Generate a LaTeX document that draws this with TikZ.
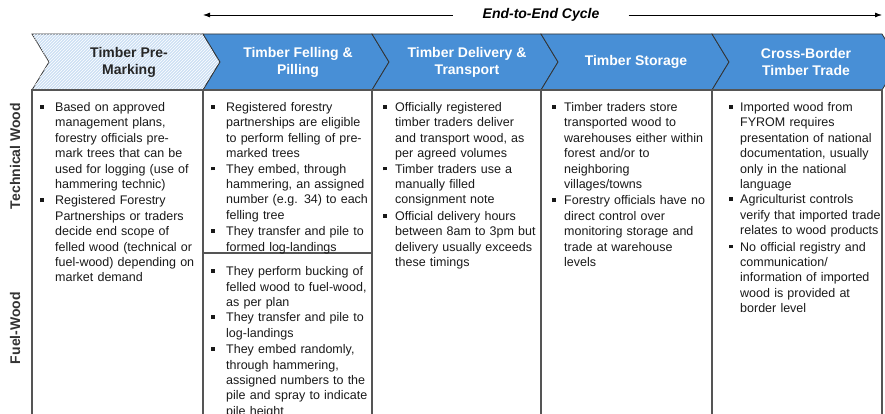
\documentclass[tikz,border=0pt]{standalone}
\usepackage{fontspec}
\setmainfont{Liberation Sans}
\usetikzlibrary{arrows.meta,patterns}
\definecolor{hdrblue}{RGB}{72,143,214}
\definecolor{hatchblue}{RGB}{205,224,244}
\definecolor{gridgray}{RGB}{85,85,85}
\newlength{\bulind}
\setlength{\bulind}{15pt}
\newcommand{\bul}[1]{\par\lineskip=0pt\relax\noindent\strut\makebox[\bulind][l]{\rule[2.8pt]{3.8pt}{3.8pt}}\parbox[t]{152pt}{\raggedright\strut #1\strut}}
\begin{document}
\begin{tikzpicture}[x=1pt,y=-1pt,
    chev/.style={draw=black!80,line width=0.8pt,fill=hdrblue},
    hdr/.style={align=center,text=white,font=\bfseries\fontsize{14}{17}\selectfont},
    col/.style={draw=gridgray,line width=1.2pt},
    txt/.style={anchor=north west,inner sep=0pt,text width=168pt,
        font=\fontsize{12.5}{15.4}\selectfont\raggedright,text=black!90},
    rowlbl/.style={rotate=90,font=\bfseries\fontsize{14}{17}\selectfont,text=black!80}]
    \useasboundingbox (0,0) rectangle (885,414);
    \clip (0,0) rectangle (885,414);

    % cycle arrow
    \coordinate (arrL) at (203,15);
    \coordinate (arrR) at (882,15);
    \node[inner xsep=29pt,font=\bfseries\itshape\fontsize{14}{17}\selectfont] (cycle) at (541,15) {End-to-End Cycle};
    \draw[line width=0.8pt,{Latex[length=7pt,width=5pt]}-] (arrL) -- (cycle);
    \draw[line width=0.8pt,-{Latex[length=7pt,width=5pt]}] (cycle) -- (arrR);

    % header chevrons
    \path[chev,fill=hatchblue,postaction={pattern=north east lines,pattern color=white}]
        (32,34) -- (203,34) -- (220,62) -- (203,90) -- (32,90) -- (49,62) -- cycle;
    \foreach \l/\r in {203/372,372/541,541/712,712/882}
        \draw[chev] (\l,34) -- (\r,34) -- (\r+17,62) -- (\r,90) -- (\l,90) -- (\l+17,62) -- cycle;
    \node[hdr,text=black!85] (hdPre) at (129,62) {Timber Pre-\\Marking};
    \node[hdr] (hdFell) at (298,62) {Timber Felling \&\\Pilling};
    \node[hdr] (hdDeliv) at (467,62) {Timber Delivery \&\\Transport};
    \node[hdr] (hdStore) at (636,62) {Timber Storage};
    \node[hdr] (hdTrade) at (806,62) {Cross-Border\\Timber Trade};

    % table body
    \foreach \l/\r in {32/203,203/372,372/541,541/712,712/882}
        \draw[col] (\l,90) rectangle (\r,430);
    \draw[col] (203,253) -- (372,253);

    % row labels
    \node[rowlbl] (rowTech) at (15,156) {Technical Wood};
    \node[rowlbl] (rowFuel) at (15,328) {Fuel-Wood};

    % pre-marking
    \node[txt] (txPre) at (40,96) {%
        \bul{Based on approved\\management plans,\\forestry officials pre-\\mark trees that can be\\used for logging (use of\\hammering technic)}
        \bul{Registered Forestry\\Partnerships or traders\\decide end scope of\\felled wood (technical or\\fuel-wood) depending on\\market demand}};

    % felling, technical and fuel-wood
    \node[txt] (txFellTech) at (211,96) {%
        \bul{Registered forestry\\partnerships are eligible\\to perform felling of pre-\\marked trees}
        \bul{They embed, through\\hammering, an assigned\\number (e.g. 34) to each\\felling tree}
        \bul{They transfer and pile to\\formed log-landings}};
    \node[txt] (txFellFuel) at (211,260) {%
        \bul{They perform bucking of\\felled wood to fuel-wood,\\as per plan}
        \bul{They transfer and pile to\\log-landings}
        \bul{They embed randomly,\\through hammering,\\assigned numbers to the\\pile and spray to indicate\\pile height}};

    % delivery
    \node[txt] (txDeliv) at (383,96) {\setlength{\bulind}{12pt}%
        \bul{Officially registered\\timber traders deliver\\and transport wood, as\\per agreed volumes}
        \bul{Timber traders use a\\manually filled\\consignment note}
        \bul{Official delivery hours\\between 8am to 3pm but\\delivery usually exceeds\\these timings}};

    % storage
    \node[txt] (txStore) at (552,96) {\setlength{\bulind}{12pt}%
        \bul{Timber traders store\\transported wood to\\warehouses either within\\forest and/or to\\neighboring\\villages/towns}
        \bul{Forestry officials have no\\direct control over\\monitoring storage and\\trade at warehouse\\levels}};

    % trade
    \node[txt] (txTrade) at (729,96) {\setlength{\bulind}{11pt}%
        \bul{Imported wood from\\FYROM requires\\presentation of national\\documentation, usually\\only in the national\\language}
        \bul{Agriculturist controls\\verify that imported trade\\relates to wood products}
        \bul{No official registry and\\communication/\\information of imported\\wood is provided at\\border level}};
\end{tikzpicture}
\end{document}
